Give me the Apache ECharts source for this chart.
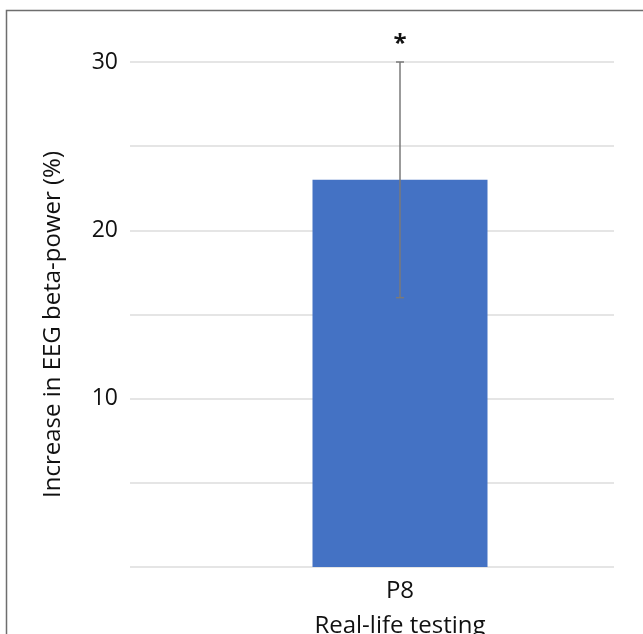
<!DOCTYPE html>
<html><head><meta charset="utf-8">
<script src="https://cdn.jsdelivr.net/npm/echarts@6/dist/echarts.min.js"></script>
<style>html,body{margin:0;padding:0;background:#fff}#c{width:643px;height:634px}</style>
</head><body><div id="c"></div>
<script>
const categories = ['P8\nReal-life testing'];
const values = [23];
const errLow = [16];
const errHigh = [30];
const sigMarks = ['*'];
const yTicks = [0, 5, 10, 15, 20, 25, 30];
const yLabelShown = [10, 20, 30];

const chart = echarts.init(document.getElementById('c'));
const font = '"Open Sans", "Noto Sans", sans-serif';
chart.setOption({
  animation: false,
  graphic: [{type:'rect', shape:{x:6.5, y:10.5, width:700, height:700}, style:{fill:'none', stroke:'#6e6e6e', lineWidth:1.5}, silent:true}],
  grid: [
    {left:186, right:29, top:62, bottom:67, outerBoundsMode:'none', containLabel:false},
    {left:130, right:29, top:62, bottom:67, outerBoundsMode:'none', containLabel:false}
  ],
  xAxis: [
    {type:'category', gridIndex:0, data:categories, axisLine:{show:false}, axisTick:{show:false},
     axisLabel:{color:'#111', fontFamily:font, fontSize:24, lineHeight:35, margin:7}},
    {type:'category', gridIndex:1, data:[''], show:false}
  ],
  yAxis: [
    {type:'value', gridIndex:0, min:0, max:30, interval:5, show:false, splitLine:{show:false}},
    {type:'value', gridIndex:1, min:0, max:30, interval:5,
     axisLine:{show:false}, axisTick:{show:false},
     splitLine:{lineStyle:{color:'#dcdcdc', width:1.5}},
     axisLabel:{color:'#111', fontFamily:font, fontSize:23, margin:12,
       formatter: v => yLabelShown.includes(v) ? String(v) : ''},
     name:'Increase in EEG beta-power (%)', nameLocation:'middle', nameGap:65,
     nameTextStyle:{color:'#111', fontFamily:font, fontSize:24, padding:[0,20,0,0]}}
  ],
  series: [
    {type:'bar', xAxisIndex:0, yAxisIndex:0, data:values, barWidth:175,
     itemStyle:{color:'#4472C4'}, z:2},
    {type:'custom', xAxisIndex:0, yAxisIndex:0, z:3,
     data: values.map((v,i)=>[i, errLow[i], errHigh[i]]),
     renderItem: (params, api) => {
       const x = api.coord([api.value(0), 0])[0];
       const lo = api.coord([api.value(0), api.value(1)])[1];
       const hi = api.coord([api.value(0), api.value(2)])[1];
       const st = {stroke:'#7a7a7a', lineWidth:1.5};
       return {type:'group', children:[
         {type:'line', shape:{x1:x, y1:hi, x2:x, y2:lo}, style:st},
         {type:'line', shape:{x1:x-4, y1:lo, x2:x+4, y2:lo}, style:st},
         {type:'line', shape:{x1:x-4, y1:hi, x2:x+4, y2:hi}, style:st},
         {type:'text', x:x, y:hi-18, style:{text:sigMarks[params.dataIndex], fill:'#111',
           font:'bold 24px ' + font, align:'center', verticalAlign:'middle'}}
       ]};
     }}
  ]
});
</script></body></html>
